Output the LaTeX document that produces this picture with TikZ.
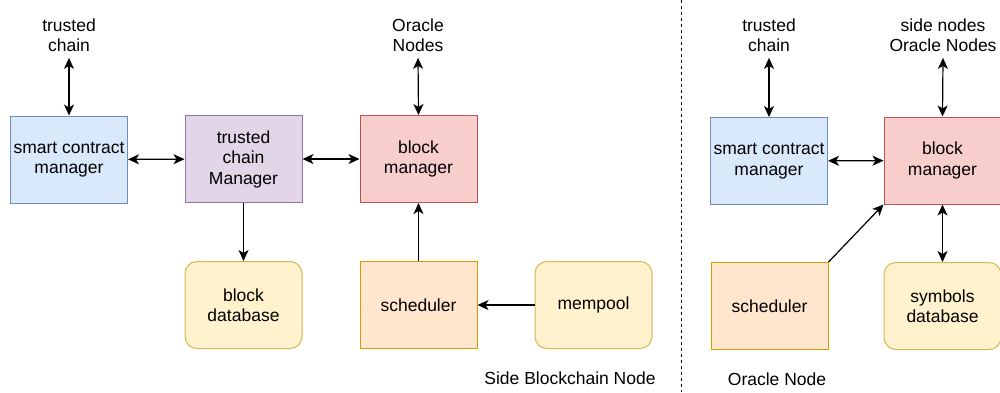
\documentclass[tikz,border=0pt]{standalone}
\usepackage{fontspec}
\setmainfont{Liberation Sans}
\usetikzlibrary{arrows.meta}
\definecolor{bluefill}{HTML}{DAE8FC}\definecolor{blueline}{HTML}{6C8EBF}
\definecolor{purpfill}{HTML}{E1D5E7}\definecolor{purpline}{HTML}{9673A6}
\definecolor{redfill}{HTML}{F8CECC}\definecolor{redline}{HTML}{B85450}
\definecolor{orfill}{HTML}{FFE6CC}\definecolor{orline}{HTML}{D79B00}
\definecolor{yelfill}{HTML}{FFF2CC}\definecolor{yelline}{HTML}{D6B656}
\begin{document}
\begin{tikzpicture}[x=1pt,y=-1pt,
	font=\fontsize{17.5}{20.5}\selectfont,
	box/.style={draw,line width=1pt,minimum width=117pt,minimum height=87pt,align=center,inner sep=0pt},
	dbbox/.style={box,rounded corners=12pt},
	lbl/.style={align=center,inner sep=0pt},
	conn/.style={line width=1.2pt,-{Stealth[length=11pt,width=10pt,inset=3pt]}},
	biconn/.style={conn,{Stealth[length=11pt,width=10pt,inset=3pt]}-{Stealth[length=11pt,width=10pt,inset=3pt]}}]
		\useasboundingbox (0,0) rectangle (1000,392);
		\clip (0,0) rectangle (1000,392);
		%side blockchain node
		\node[box,fill=bluefill,draw=blueline] (scm) at (69,159.5){smart contract\\manager};
		\node[box,fill=purpfill,draw=purpline] (tcm) at (243.5,159){trusted\\chain\\Manager};
		\node[box,fill=redfill,draw=redline] (bm) at (418.5,159){block\\manager};
		\node[dbbox,fill=yelfill,draw=yelline] (bdb) at (243.5,305){block\\database};
		\node[box,fill=orfill,draw=orline] (sch) at (418.5,305){scheduler};
		\node[dbbox,fill=yelfill,draw=yelline] (mem) at (593.5,305){mempool};
		\node[lbl] (tc) at (69,35){trusted\\chain};
		\node[lbl] (on) at (418,35){Oracle\\Nodes};
		\node[lbl] (sbn) at (570,378){Side Blockchain Node};
		\draw[biconn] (tc.south) ++(0,6) coordinate (tcb) -- (scm.north);
		\draw[biconn] (on.south) ++(0,6) coordinate (onb) -- (bm.north);
		\draw[biconn] (scm) -- (tcm);
		\draw[biconn] (tcm) -- (bm);
		\draw[conn] (tcm) -- (bdb);
		\draw[conn] (sch) -- (bm);
		\draw[conn] (mem) -- (sch);
		\draw[dashed,line width=1pt] (681,0) -- (681,392);
		%oracle node
		\node[box,fill=bluefill,draw=blueline] (scm2) at (769,161){smart contract\\manager};
		\node[box,fill=redfill,draw=redline] (bm2) at (942.5,160.5){block\\manager};
		\node[box,fill=orfill,draw=orline] (sch2) at (769.5,306){scheduler};
		\node[dbbox,fill=yelfill,draw=yelline] (sdb) at (942.5,306){symbols\\database};
		\node[lbl] (tc2) at (769,35){trusted\\chain};
		\node[lbl] (sn) at (943,35){side nodes\\Oracle Nodes};
		\node[lbl] (orn) at (777,379){Oracle Node};
		\draw[biconn] (tc2.south) ++(0,6) coordinate (tc2b) -- (scm2.north);
		\draw[biconn] (sn.south) ++(0,6) coordinate (snb) -- (bm2.north);
		\draw[biconn] (scm2) -- (bm2);
		\draw[biconn] (bm2) -- (sdb);
		\draw[conn] (sch2.north east) -- (bm2.south west);
\end{tikzpicture}
\end{document}
